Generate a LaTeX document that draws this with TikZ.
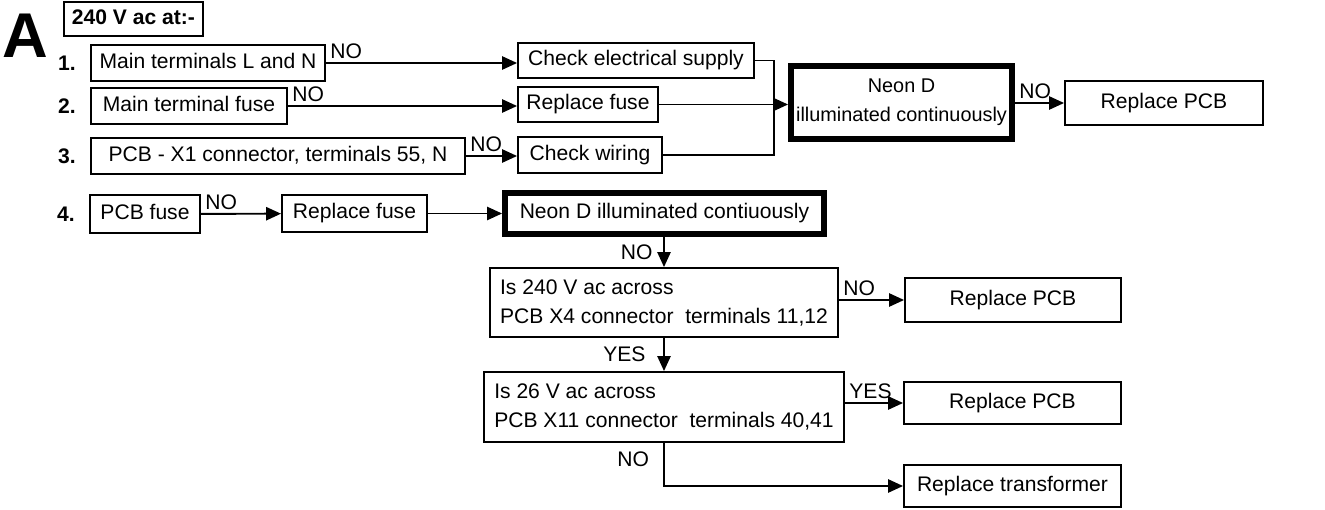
\documentclass[tikz,border=0pt]{standalone}
\usepackage{fontspec}
\setmainfont{Liberation Sans}
\usetikzlibrary{arrows.meta,positioning}

\begin{document}
\begin{tikzpicture}[x=0.02cm, y=-0.02cm,
  boxbase/.style={draw, line width=1.1pt, inner sep=0pt, align=center, font=\fontsize{12}{16.5}\selectfont},
  box/.style={boxbase, minimum height=0.72cm, text height=8.6pt, text depth=2.5pt},
  thickbox/.style={box, line width=3.4pt},
  num/.style={inner sep=0pt, font=\fontsize{12}{14}\selectfont\bfseries},
  lbl/.style={inner sep=2pt, font=\fontsize{12}{14}\selectfont},
  arr/.style={line width=1.1pt, -{Triangle[length=8.5pt,width=7.5pt]}},
  wire/.style={line width=1.1pt}]
  \useasboundingbox (0,0) rectangle (1325,510);
  % Heading
  \node[inner sep=0pt, font=\fontsize{36}{36}\selectfont\bfseries] (bigA) at (25.5,35.5) {A};
  \node[box, minimum width=2.78cm, minimum height=0.68cm, font=\fontsize{12}{14}\selectfont\bfseries] (head) at (133.5,19) {240 V ac at:-};
  % Checks 1 to 3
  \node[box, minimum width=4.68cm] (b1) at (208,63) {Main terminals L and N};
  \node[box, minimum width=3.92cm] (b2) at (189,106) {Main terminal fuse};
  \node[box, minimum width=7.48cm] (b3) at (278,156) {PCB - X1 connector, terminals 55, N};
  \node[num, left=0.28cm of b1] (n1) {1.};
  \node[num, left=0.28cm of b2] (n2) {2.};
  \node[num, left=0.28cm of b3] (n3) {3.};
  % Remedies
  \node[box, minimum width=4.72cm, minimum height=0.70cm] (c1) at (636,60.5) {Check electrical supply};
  \node[box, minimum width=2.80cm, minimum height=0.70cm] (c2) at (588,104.5) {Replace fuse};
  \node[box, minimum width=2.88cm] (c3) at (590,155) {Check wiring};
  \node[boxbase, line width=3.4pt, minimum width=4.42cm, minimum height=1.46cm, font=\fontsize{11.3}{16.5}\selectfont] (neonA) at (901.5,102.5) {Neon D\\illuminated continuously};
  \node[box, minimum width=3.96cm, minimum height=0.88cm] (pcbA) at (1164,103) {Replace PCB};
  \coordinate (merge) at (774,104.5);
  \draw[arr] (b1) -- (b1 -| c1.west) node[lbl, pos=0, above right] {NO};
  \draw[arr] (b2) -- (b2 -| c2.west) node[lbl, pos=0, above right] {NO};
  \draw[arr] (b3) -- (b3 -| c3.west) node[lbl, pos=0, above right] {NO};
  \draw[wire] (c1.east) -| (merge) |- (c3.east);
  \draw[arr] (c2.east) -- (c2.east -| neonA.west);
  \draw[arr] (neonA.east |- pcbA) -- (pcbA.west) node[lbl, pos=0, above right] {NO};
  % Check 4
  \node[box, minimum width=2.20cm, minimum height=0.76cm] (b4) at (145,214) {PCB fuse};
  \node[num, left=0.28cm of b4] (n4) {4.};
  \node[box, minimum width=2.90cm, minimum height=0.74cm] (c4) at (354.5,213.5) {Replace fuse};
  \node[thickbox, minimum width=6.38cm, minimum height=0.82cm] (neonB) at (664.5,213.5) {Neon D illuminated contiuously};
  \draw[arr] (b4) -- (c4) node[lbl, pos=0, above right] {NO};
  \draw[arr] (c4) -- (neonB);
  % Voltage tests
  \node[boxbase, minimum width=6.96cm, minimum height=1.38cm, align=left] (q1) at (664,302.5) {Is 240 V ac across\\PCB X4 connector\ \ terminals 11,12};
  \node[box, minimum width=4.32cm, minimum height=0.88cm] (pcbB) at (1013,300) {Replace PCB};
  \node[boxbase, minimum width=7.20cm, minimum height=1.40cm, align=left] (q2) at (664,407) {Is 26 V ac across\\PCB X11 connector\ \ terminals 40,41};
  \node[box, minimum width=4.34cm, minimum height=0.84cm] (pcbC) at (1012.5,403) {Replace PCB};
  \node[box, minimum width=4.34cm, minimum height=0.84cm] (trans) at (1012.5,486) {Replace transformer};
  \draw[arr] (neonB.south -| q1) -- (q1.north) node[lbl, midway, left=4pt] {NO};
  \draw[arr] (q1.east |- pcbB) -- (pcbB.west) node[lbl, pos=0, above right] {NO};
  \draw[arr] (q1.south) -- (q2.north) node[lbl, midway, left=8pt] {YES};
  \draw[arr] (q2.east |- pcbC) -- (pcbC.west) node[lbl, pos=0, above right] {YES};
  \draw[arr] (q2.south) |- (trans.west) node[lbl, pos=0.19, left=6pt] {NO};
\end{tikzpicture}
\end{document}
